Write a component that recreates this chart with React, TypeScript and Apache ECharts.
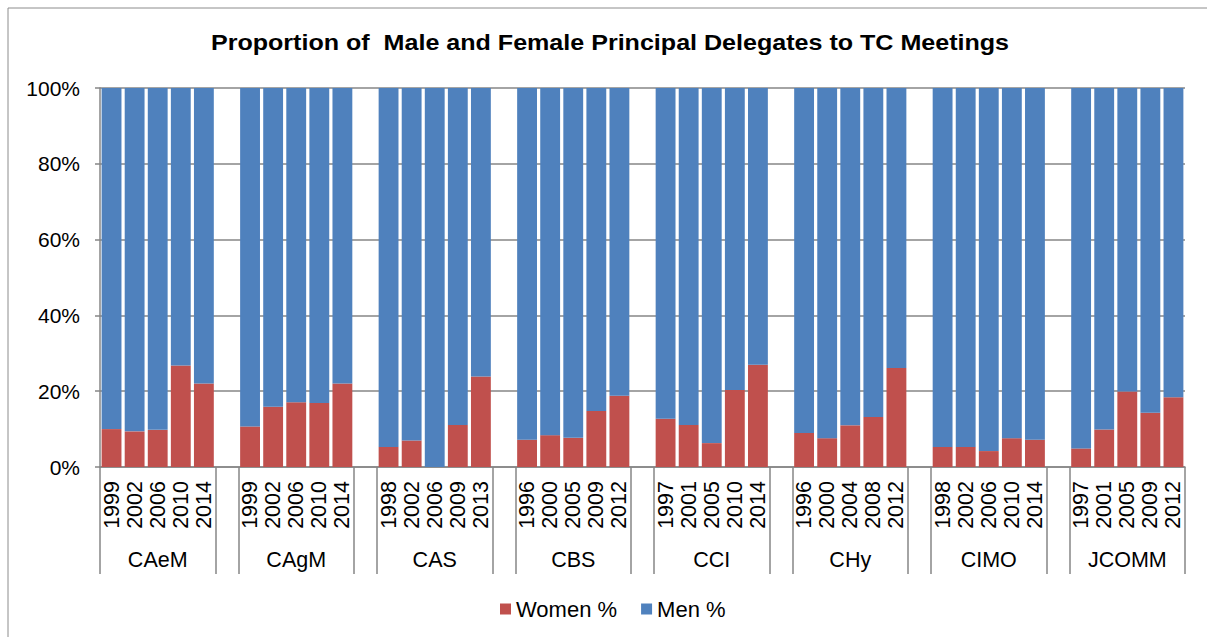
import React, { useEffect, useRef } from "react";
import * as echarts from "echarts";

const titleText = "Proportion of  Male and Female Principal Delegates to TC Meetings";
const groups = ["CAeM", "CAgM", "CAS", "CBS", "CCI", "CHy", "CIMO", "JCOMM"];
const years = [
  ["1999", "2002", "2006", "2010", "2014"],
  ["1999", "2002", "2006", "2010", "2014"],
  ["1998", "2002", "2006", "2009", "2013"],
  ["1996", "2000", "2005", "2009", "2012"],
  ["1997", "2001", "2005", "2010", "2014"],
  ["1996", "2000", "2004", "2008", "2012"],
  ["1998", "2002", "2006", "2010", "2014"],
  ["1997", "2001", "2005", "2009", "2012"],
];
const women = [
  [10.0, 9.4, 9.8, 26.8, 22.0],
  [10.7, 15.9, 17.1, 16.9, 22.0],
  [5.3, 7.0, 0, 11.1, 23.9],
  [7.2, 8.4, 7.7, 14.8, 18.8],
  [12.7, 11.1, 6.3, 20.3, 27.0],
  [9.0, 7.6, 11.0, 13.2, 26.1],
  [5.3, 5.3, 4.2, 7.6, 7.2],
  [4.9, 9.9, 19.9, 14.3, 18.4],
];
const men = [
  [90.0, 90.6, 90.2, 73.2, 78.0],
  [89.3, 84.1, 82.9, 83.1, 78.0],
  [94.7, 93.0, 100, 88.9, 76.1],
  [92.8, 91.6, 92.3, 85.2, 81.2],
  [87.3, 88.9, 93.7, 79.7, 73.0],
  [91.0, 92.4, 89.0, 86.8, 73.9],
  [94.7, 94.7, 95.8, 92.4, 92.8],
  [95.1, 90.1, 80.1, 85.7, 81.6],
];
const yTicks = [0, 20, 40, 60, 80, 100];

const FONT = "Arial, 'Liberation Sans', sans-serif";
const GRAY = "#868686";

export default function App() {
  const ref = useRef<HTMLDivElement>(null);
  useEffect(() => {
    if (!ref.current) return;
    const chart = echarts.init(ref.current, null, { renderer: "svg" });

    const cats: string[] = [];
    const wData: any[] = [];
    const mData: any[] = [];
    groups.forEach((g, gi) => {
      years[gi].forEach((y, yi) => {
        cats.push(g + "|" + y);
        wData.push(women[gi][yi]);
        mData.push(men[gi][yi]);
      });
      if (gi < groups.length - 1) {
        cats.push("gap" + gi);
        wData.push("-");
        mData.push("-");
      }
    });

    chart.setOption({
      animation: false,
      backgroundColor: "#fff",
      textStyle: { fontFamily: FONT },
      legend: {
        left: 495,
        top: 593,
        itemWidth: 11,
        itemHeight: 11,
        itemGap: 24,
        icon: "rect",
        data: ["Women %", "Men %"],
        textStyle: { fontFamily: FONT, fontSize: 22, color: "#000" },
      },
      graphic: [
        {
          type: "rect",
          silent: true,
          shape: { x: 8, y: 8, width: 1300, height: 700 },
          style: { fill: "none", stroke: "#8c8c8c", lineWidth: 1 },
        },
        {
          type: "text",
          silent: true,
          x: 610,
          y: 43,
          scaleX: 1.14,
          scaleY: 1,
          style: {
            text: titleText,
            x: 0,
            y: 0,
            textAlign: "center",
            textVerticalAlign: "middle",
            fontFamily: FONT,
            fontSize: 22,
            fontWeight: "bold",
            fill: "#000",
          },
        },
      ],
      grid: { left: 100, right: 22, top: 88, bottom: 170 },
      xAxis: [
        {
          type: "category",
          data: cats,
          position: "bottom",
          axisLine: { show: true, lineStyle: { color: GRAY, width: 1.5 } },
          axisTick: {
            show: true,
            length: 107,
            interval: (i: number) => i % 6 === 0 || i % 6 === 5,
            lineStyle: { color: GRAY, width: 1.5 },
          },
          axisLabel: {
            interval: 0,
            rotate: 90,
            margin: 14,
            fontSize: 21.5,
            color: "#000",
            fontFamily: FONT,
            formatter: (v: string) => (v.indexOf("|") >= 0 ? v.split("|")[1] : ""),
          },
        },
        {
          type: "category",
          data: cats,
          position: "bottom",
          axisLine: { show: false },
          axisTick: { show: false },
          axisLabel: {
            interval: 0,
            margin: 82,
            fontSize: 21.5,
            color: "#000",
            fontFamily: FONT,
            formatter: (v: string, i: number) => (i % 6 === 2 ? v.split("|")[0] : ""),
          },
        },
      ],
      yAxis: {
        type: "value",
        min: yTicks[0],
        max: yTicks[yTicks.length - 1],
        interval: 20,
        axisLine: { show: true, lineStyle: { color: GRAY, width: 1.5 } },
        axisTick: { show: true, length: 5, lineStyle: { color: GRAY, width: 1.5 } },
        splitLine: { show: true, lineStyle: { color: GRAY, width: 1.5 } },
        axisLabel: {
          margin: 20,
          fontSize: 21,
          color: "#000",
          fontFamily: FONT,
          formatter: "{value}%",
        },
      },
      series: [
        {
          name: "Women %",
          type: "bar",
          stack: "total",
          xAxisIndex: 0,
          data: wData,
          barCategoryGap: "14%",
          itemStyle: { color: "#C0504D" },
        },
        {
          name: "Men %",
          type: "bar",
          stack: "total",
          xAxisIndex: 0,
          data: mData,
          barCategoryGap: "14%",
          itemStyle: { color: "#4F81BD" },
        },
      ],
    });
    return () => chart.dispose();
  }, []);
  return (
    <div
      ref={ref}
      style={{ position: "fixed", left: 0, top: 0, width: 1207, height: 637, background: "#fff" }}
    />
  );
}
